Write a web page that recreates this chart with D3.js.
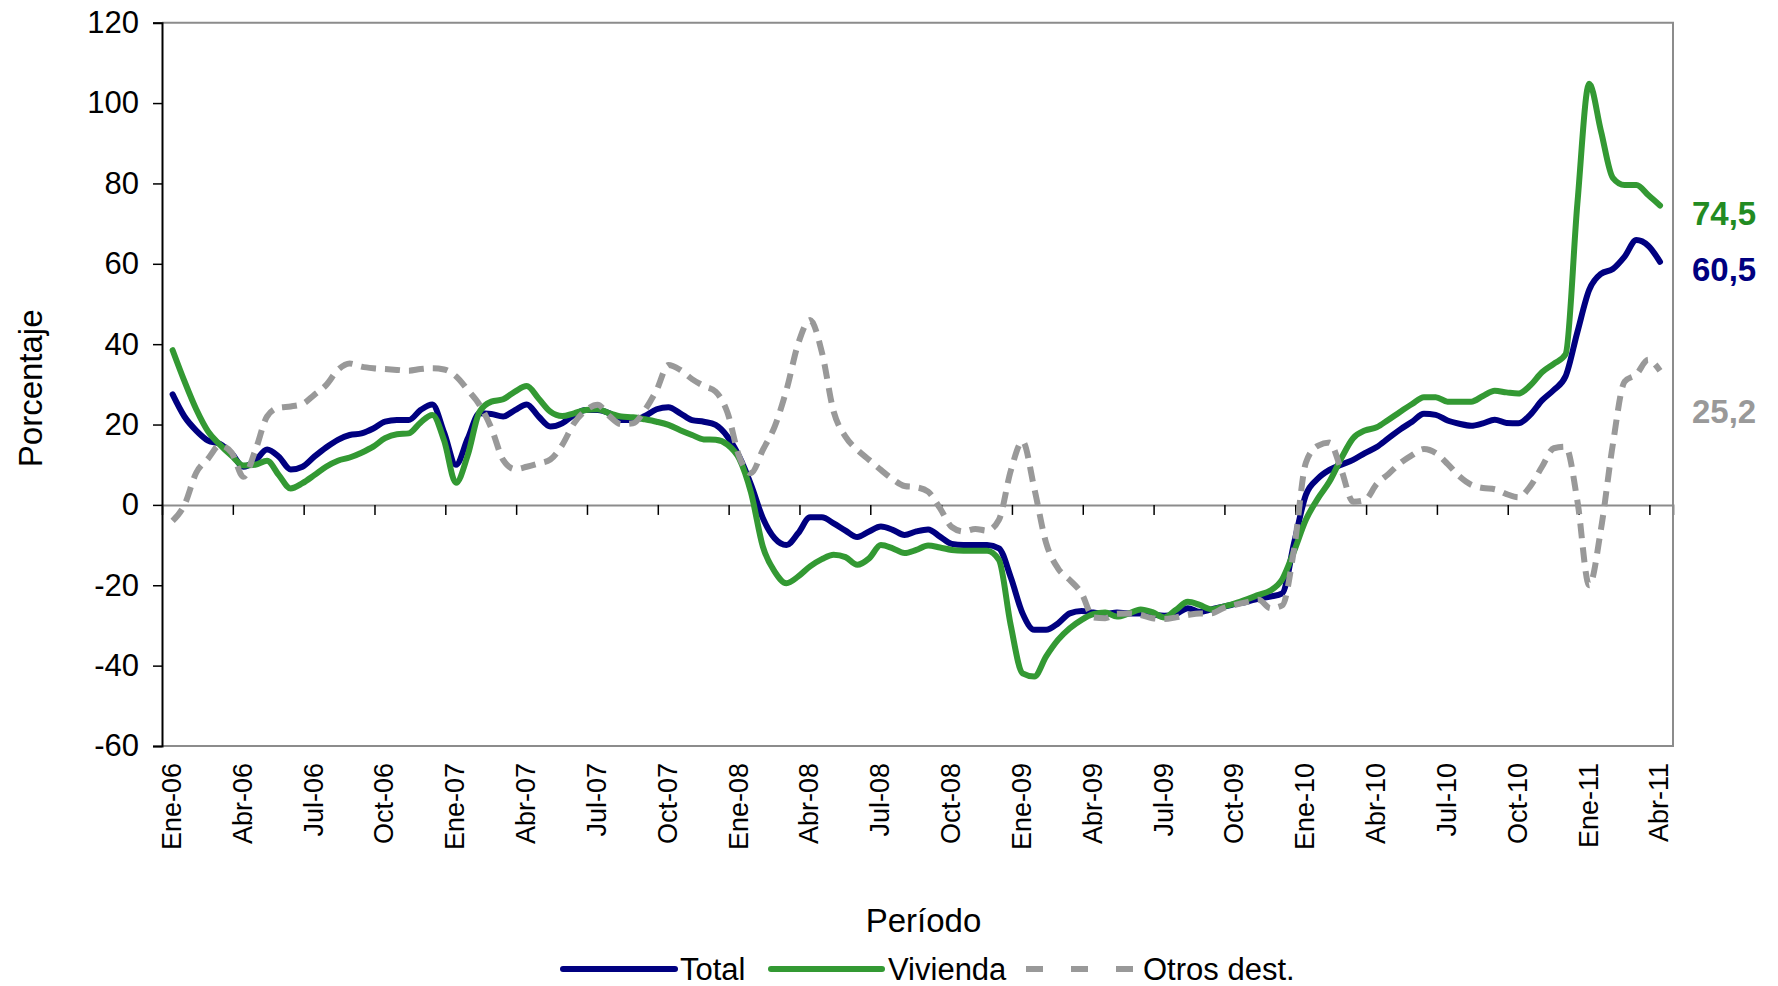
<!DOCTYPE html>
<html>
<head>
<meta charset="utf-8">
<script src="https://cdn.jsdelivr.net/npm/d3@7"></script>
<style>
  html, body { margin: 0; padding: 0; background: #ffffff; }
  svg { display: block; font-family: "Liberation Sans", Arial, sans-serif; }
</style>
</head>
<body>
<svg id="chart" width="1778" height="986"></svg>
<script>
// ---------------- DATA ----------------
// Tick labels of the period axis (one every quarter)
const tickLabels = ["Ene-06","Abr-06","Jul-06","Oct-06","Ene-07","Abr-07","Jul-07","Oct-07",
  "Ene-08","Abr-08","Jul-08","Oct-08","Ene-09","Abr-09","Jul-09","Oct-09",
  "Ene-10","Abr-10","Jul-10","Oct-10","Ene-11","Abr-11"];
const yTicks = [120, 100, 80, 60, 40, 20, 0, -20, -40, -60];

// Observations: twice a month, from mid-January 2006 to mid-April 2011 (months since Jan-06)
const periodos = d3.range(127).map(i => 0.45 + 0.5 * i);

const total = [
  27.5, 22, 18.5, 16, 15.2, 12.8, 9.5, 11, 13.8, 12,
  8.8, 9.5, 12, 14.3, 16.2, 17.4, 17.8, 19, 20.7, 21.1,
  21.1, 23.6, 25, 18, 10, 16.5, 22.8, 22.6, 22, 23.6,
  25, 22, 19.5, 20.3, 22.4, 23.6, 23.6, 22.8, 21.1, 21.1,
  22.1, 23.8, 24.3, 22.8, 21.1, 20.7, 19.9, 17, 12, 5,
  -3.3, -8.3, -10, -7, -3.1, -3.1, -4.6, -6.4, -8, -6.6,
  -5.4, -6.2, -7.5, -6.6, -6.1, -7.9, -9.7, -10, -10, -10,
  -10.8, -18, -27, -31.1, -31.1, -29.5, -27, -26.4, -26.8, -27.1,
  -26.8, -27, -27, -27.3, -27.6, -27.1, -25.7, -26.6, -26, -25.3,
  -24.7, -24.1, -23.3, -22.8, -22, -9.5, 2.5, 6.5, 8.7, 10,
  11.2, 12.9, 14.4, 16.6, 18.8, 20.7, 22.7, 22.4, 21, 20.2,
  19.7, 20.3, 21.2, 20.4, 20.3, 22.4, 26, 28.6, 32, 43,
  53.5, 57.5, 58.7, 61.8, 65.9, 64.5, 60.5
];

const vivienda = [
  38.5, 30.8, 23.8, 18.3, 15, 12.2, 9.8, 10, 11, 7.4,
  4.1, 5.4, 7.4, 9.5, 11, 11.8, 13, 14.5, 16.6, 17.6,
  17.8, 20.5, 22.4, 16, 5.5, 12.4, 23.2, 25.7, 26.3, 28.2,
  29.6, 26.5, 23.2, 22.1, 22.8, 23.6, 23.8, 22.8, 22, 21.8,
  21.3, 20.7, 19.9, 18.6, 17.4, 16.3, 16.2, 15, 11.5, 3,
  -10.4, -16.6, -19.5, -17.8, -15.3, -13.5, -12.4, -13, -14.9, -13.3,
  -10, -10.8, -12, -11.2, -10.1, -10.6, -11.2, -11.4, -11.4, -11.4,
  -13.7, -30, -41.9, -42.7, -37.7, -33.6, -30.7, -28.6, -27.2, -26.8,
  -27.8, -27, -26, -26.7, -28, -26.1, -24.1, -24.9, -26, -25.3,
  -24.5, -23.5, -22.4, -21.3, -18.5, -11.5, -3.7, 1.5, 5.8, 11.6,
  16.6, 18.5, 19.3, 21.2, 23.2, 25.1, 26.8, 26.8, 25.7, 25.7,
  25.7, 27.1, 28.4, 28, 27.7, 29.7, 33, 35.1, 37.5, 75,
  104.8, 93, 81.4, 79.6, 79.6, 77.1, 74.5
];

const otros = [
  -4, 0, 8, 11.5, 14.8, 13, 7, 13.5, 22, 24.2,
  24.5, 25.1, 27.4, 29.8, 33.6, 35.2, 34.4, 34, 33.8, 33.6,
  33.4, 33.8, 34, 33.7, 32, 28.6, 24.9, 19.1, 11.2, 8.9,
  9.5, 10.3, 11.3, 14.9, 20.3, 23.5, 24.9, 22.1, 20.1, 20.3,
  23.6, 28.6, 34.8, 33.6, 31.3, 29.6, 28.2, 23, 12, 7.9,
  13.7, 19.5, 28.6, 40.2, 46, 38, 23.2, 17, 13.7, 11.2,
  8.7, 6.4, 4.7, 4.4, 3.3, -0.8, -5.5, -6.6, -6, -6.4,
  -3.7, 8.5, 15.8, 4, -9.5, -15.8, -18.7, -22, -28, -28.2,
  -27.1, -27, -27.4, -28.2, -28.4, -28, -27.4, -27, -27, -25.7,
  -24.9, -24.2, -23.6, -25.7, -25, -11, 10.5, 14.7, 15.5, 8.7,
  0.8, 1.2, 5.2, 7.7, 10.4, 12.4, 13.9, 12.9, 10.2, 7.1,
  5, 4.2, 3.9, 2.7, 1.9, 4.6, 9.5, 14.1, 14.5, 1,
  -20, -6, 15, 30.7, 32.5, 36.1, 33.4
];

const seriesNames = ["Total", "Vivienda", "Otros dest."];
const lastLabels = ["60,5", "74,5", "25,2"];

// ---------------- CHART ----------------
const svg = d3.select("#chart");
const plot = { left: 162, right: 1673, top: 22.7, bottom: 746 };

const x = d3.scaleLinear().domain([0, 64]).range([plot.left, plot.right]);
const y = d3.scaleLinear().domain([-60, 120]).range([plot.bottom, plot.top]);

const styles = [
  { color: "#000080", dash: null, labelColor: "#000080" },
  { color: "#339933", dash: null, labelColor: "#228b22" },
  { color: "#999999", dash: "15,9", labelColor: "#999999" }
];
const allSeries = [total, vivienda, otros];

// plot frame (top, right, bottom in grey)
svg.append("path")
  .attr("d", `M${plot.left},${plot.top}H${plot.right}V${plot.bottom}H${plot.left}`)
  .attr("fill", "none").attr("stroke", "#8c8c8c").attr("stroke-width", 2);

// zero line with quarter ticks
const zeroAxis = d3.axisBottom(x)
  .tickValues(d3.range(3, 64, 3))
  .tickSize(10).tickFormat("");
const gz = svg.append("g").attr("transform", `translate(0,${y(0)})`).call(zeroAxis);
gz.select(".domain").attr("stroke", "#8c8c8c").attr("stroke-width", 2);
gz.selectAll(".tick line").attr("stroke", "#000").attr("stroke-width", 1.5);

// y axis
const yAxis = d3.axisLeft(y).tickValues(yTicks).tickSize(9).tickPadding(14).tickFormat(d => String(d));
const gy = svg.append("g").attr("transform", `translate(${plot.left},0)`).call(yAxis);
gy.select(".domain").attr("stroke", "#000").attr("stroke-width", 2);
gy.selectAll(".tick line").attr("stroke", "#000").attr("stroke-width", 1.5);
gy.selectAll(".tick text")
  .attr("font-size", 31).attr("fill", "#000")
  .attr("font-family", "'Liberation Sans', Arial, sans-serif");

// period labels (rotated)
svg.append("g").selectAll("text")
  .data(tickLabels)
  .join("text")
  .attr("transform", (d, i) => `translate(${x(i * 3) + 10},${plot.bottom + 17}) rotate(-90)`)
  .attr("text-anchor", "end")
  .attr("dominant-baseline", "central")
  .attr("font-size", 27)
  .attr("fill", "#000")
  .text(d => d);

// axis titles
svg.append("text")
  .attr("x", (plot.left + plot.right) / 2 + 6).attr("y", 920)
  .attr("text-anchor", "middle").attr("dominant-baseline", "central")
  .attr("font-size", 33).attr("fill", "#000").text("Período");

svg.append("text")
  .attr("transform", `translate(30,${(plot.top + plot.bottom) / 2 + 4}) rotate(-90)`)
  .attr("text-anchor", "middle").attr("dominant-baseline", "central")
  .attr("font-size", 33).attr("fill", "#000").text("Porcentaje");

// lines
const line = d3.line()
  .x((d, i) => x(periodos[i]))
  .y(d => y(d))
  .curve(d3.curveMonotoneX);

allSeries.forEach((s, k) => {
  svg.append("path")
    .datum(s)
    .attr("d", line)
    .attr("fill", "none")
    .attr("stroke", styles[k].color)
    .attr("stroke-width", 6)
    .attr("stroke-linejoin", "round")
    .attr("stroke-linecap", styles[k].dash ? "butt" : "round")
    .attr("stroke-dasharray", styles[k].dash);
});

// last value labels
allSeries.forEach((s, k) => {
  const v = parseFloat(lastLabels[k].replace(",", "."));
  svg.append("text")
    .attr("x", plot.right + 19)
    .attr("y", y(v) + 8)
    .attr("dominant-baseline", "central")
    .attr("font-size", 33).attr("font-weight", "bold")
    .attr("fill", styles[k].labelColor)
    .text(lastLabels[k]);
});

// legend
const legendItems = [
  { x0: 563, x1: 675, tx: 680 },
  { x0: 771, x1: 882, tx: 888 },
  { x0: 1026, x1: 1134, tx: 1143 }
];
const ly = 969;
const lg = svg.append("g");
seriesNames.forEach((name, k) => {
  const it = legendItems[k];
  lg.append("line")
    .attr("x1", it.x0).attr("x2", it.x1).attr("y1", ly).attr("y2", ly)
    .attr("stroke", styles[k].color).attr("stroke-width", 6)
    .attr("stroke-linecap", styles[k].dash ? "butt" : "round")
    .attr("stroke-dasharray", styles[k].dash ? "17,28" : null);
  lg.append("text")
    .attr("x", it.tx).attr("y", ly)
    .attr("dominant-baseline", "central")
    .attr("font-size", 31).attr("fill", "#000")
    .text(name);
});
</script>
</body>
</html>
